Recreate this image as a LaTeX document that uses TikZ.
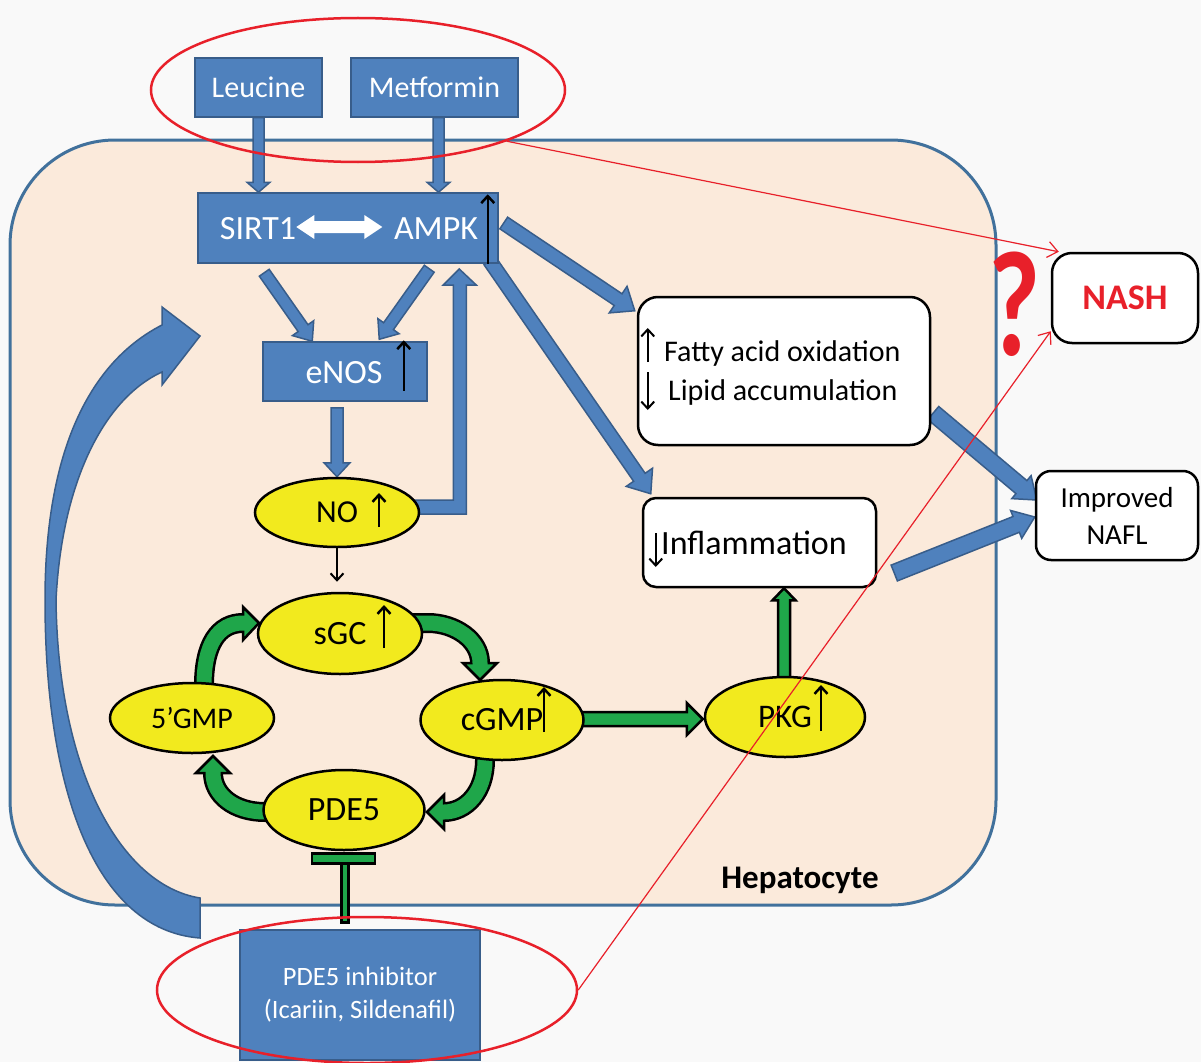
\documentclass[tikz,border=0pt]{standalone}
\usepackage{fontspec}
\setmainfont{Carlito}
\usepackage{graphicx}
\usetikzlibrary{calc,arrows.meta,shapes.geometric}
\definecolor{bgc}{HTML}{F9F9F9}
\definecolor{peach}{HTML}{FBEADB}
\definecolor{hepb}{HTML}{41719C}
\definecolor{bfill}{HTML}{4F81BD}
\definecolor{bline}{HTML}{385D8A}
\definecolor{yel}{HTML}{F2EA1E}
\definecolor{grn}{HTML}{1FA64A}
\definecolor{rd}{HTML}{E8202A}
\pgfdeclarelayer{background}
\pgfdeclarelayer{arrows}
\pgfdeclarelayer{front}
\pgfsetlayers{background,arrows,main,front}
\tikzset{
 blockarrow/.style={fill=bfill, draw=bline, line width=1.5pt},
 greenarrow/.style={fill=grn, draw=black, line width=2.5pt},
 bluebox/.style={rectangle, fill=bfill, draw=bline, line width=1.5pt, text=white, inner sep=0pt},
 yell/.style={ellipse, fill=yel, draw=black, line width=2.5pt, inner sep=0pt},
 whitebox/.style={rectangle, rounded corners=18pt, fill=white, draw=black, line width=2.5pt, inner sep=0pt},
 txtarrow/.style={line width=2.5pt, -{Straight Barb[length=7pt,width=13pt]}},
 redarrow/.style={draw=rd, line width=1.2pt, -{Straight Barb[length=10pt,width=16pt]}},
 redring/.style={ellipse, draw=rd, line width=2.5pt, inner sep=0pt},
 gshaftk/.style={line width=20pt, draw=black},
 gshaftg/.style={line width=15pt, draw=grn},
}
% block arrow: [style]{from}{to}{half shaft}{half head}{head length}
\newcommand\blk[6][]{%
  \coordinate (bkA) at (#2);
  \coordinate (bkB) at (#3);
  \coordinate (bkH) at ($(bkB)!#6!(bkA)$);
  \filldraw[blockarrow,#1] ($(bkA)!#4!90:(bkB)$) -- ($(bkH)!#4!90:(bkB)$) -- ($(bkH)!#5!90:(bkB)$) -- (bkB) -- ($(bkH)!#5!-90:(bkB)$) -- ($(bkH)!#4!-90:(bkB)$) -- ($(bkA)!#4!-90:(bkB)$) -- cycle;}
\begin{document}
\begin{tikzpicture}[x=1pt,y=-1pt]
\useasboundingbox (0,0) rectangle (1201,1062);
\begin{pgfonlayer}{background}
\fill[bgc] (0,0) rectangle (1201,1062);
\filldraw[fill=peach, draw=hepb, line width=3pt, rounded corners=105pt] (10,140) rectangle (996,905);
\end{pgfonlayer}

% nodes
\node[bluebox, minimum width=127pt, minimum height=59pt, font=\fontsize{30}{36}\selectfont] (leu) at (258.5,87.5) {Leucine};
\node[bluebox, minimum width=167pt, minimum height=59pt, font=\fontsize{30}{36}\selectfont] (met) at (434.5,87.5) {Metformin};
\node[bluebox, minimum width=300pt, minimum height=70pt] (sirt) at (348,228) {};
\node[text=white, font=\fontsize{34}{40}\selectfont] (sirtt) at (258,229) {SIRT1};
\node[text=white, font=\fontsize{34}{40}\selectfont] (ampkt) at (436,229) {AMPK};
\node[bluebox, minimum width=164pt, minimum height=59pt] (enos) at (345,371.5) {};
\node[text=white, font=\fontsize{34}{40}\selectfont] (enost) at (344,373) {eNOS};
\node[yell, minimum width=164pt, minimum height=69pt, font=\fontsize{32}{38}\selectfont] (no) at (337,512.5) {NO};
\node[yell, minimum width=164pt, minimum height=81pt, font=\fontsize{34}{40}\selectfont] (sgc) at (340,633.5) {sGC};
\node[yell, minimum width=164pt, minimum height=70pt, font=\fontsize{30}{36}\selectfont] (gmp) at (192,718) {5’GMP};
\node[yell, minimum width=163pt, minimum height=80pt, font=\fontsize{34}{40}\selectfont] (cgmp) at (502,720) {cGMP};
\node[yell, minimum width=161pt, minimum height=80pt, font=\fontsize{34}{40}\selectfont] (pde) at (344,810) {PDE5};
\node[yell, minimum width=160pt, minimum height=80pt, font=\fontsize{33}{40}\selectfont] (pkg) at (785,717) {PKG};
\node[whitebox, rounded corners=20pt, minimum width=292pt, minimum height=148pt] (fat) at (784,371) {};
\node[anchor=west, font=\fontsize{30}{36}\selectfont, inner sep=0pt] (fatt) at (664,353) {Fatty acid oxidation};
\node[anchor=west, font=\fontsize{30}{36}\selectfont, inner sep=0pt] (lipt) at (668,392) {Lipid accumulation};
\node[whitebox, rounded corners=13pt, minimum width=233pt, minimum height=89pt] (inf) at (759.5,542.5) {};
\node[anchor=west, font=\fontsize{34}{40}\selectfont, inner sep=0pt] (inft) at (661,543) {Inflammation};
\node[whitebox, rounded corners=20pt, minimum width=146pt, minimum height=90pt, text=rd, font=\fontsize{36}{42}\selectfont\bfseries] (nash) at (1125,298) {NASH};
\node[whitebox, rounded corners=15pt, minimum width=162pt, minimum height=89pt, align=center, font=\fontsize{29}{37}\selectfont] (naf) at (1117,515.5) {Improved\\NAFL};
\node[bluebox, minimum width=240pt, minimum height=130pt, align=center, font=\fontsize{26.5}{33}\selectfont] (pdei) at (360,995) {PDE5 inhibitor\\(Icariin, Sildenafil)};
\node[font=\fontsize{33}{40}\selectfont\bfseries] (hep) at (800,880) {Hepatocyte};
\node[text=rd, inner sep=0pt] (qm) at (1015,304) {\scalebox{0.75}[1]{\fontsize{150}{150}\selectfont\bfseries ?}};

% arrows under nodes
\begin{pgfonlayer}{arrows}
\blk{leu.south}{leu.south |- sirt.north}{5.5pt}{11.5pt}{10pt}
\blk{$(met.south)+(4,0)$}{$(met.south |- sirt.north)+(4,0)$}{5.5pt}{11.5pt}{10pt}
\blk{$(sirt.south west)+(67,9)$}{$(enos.north west)+(50,0)$}{6pt}{13pt}{16pt}
\blk{$(sirt.south west)+(232,5)$}{$(enos.north west)+(117,-2)$}{6pt}{13pt}{16pt}
\blk{$(enos.south)+(-8,6)$}{no.north}{6pt}{13pt}{14pt}
\filldraw[blockarrow] ($(no.east)+(-6,-12.5)$) -- ++(39,0) -- ++(0,-215) -- ++(-10,0) -- ++(16,-16) -- ++(17,16) -- ++(-10,0) -- ++(0,229) -- ++(-52,0) -- cycle;
\blk{$(sirt.east)+(5,-5)$}{$(fat.north west)+(-2,15)$}{7pt}{16pt}{20pt}
\blk{$(sirt.south east)+(-9,-3)$}{$(inf.north west)+(9,-3)$}{7pt}{16pt}{20pt}
\blk{$(fat.east)+(2,42)$}{$(naf.west)+(2,-15.5)$}{8.5pt}{15pt}{20pt}
\blk{$(inf.east)+(17,30.5)$}{$(naf.west)+(0,1.5)$}{8.5pt}{15pt}{20pt}
% big curved arrow
\filldraw[blockarrow] (200,938) .. controls (95,930) and (45,790) .. (45,600) .. controls (45,450) and (90,362) .. (162,325) -- (162,307) -- (200,336) -- (162,385) -- (162,372) .. controls (105,398) and (62,480) .. (56,600) .. controls (58,770) and (120,885) .. (200,898) -- cycle;
% green straight arrows
\blk[greenarrow]{$(cgmp.east)+(-5,-1)$}{$(cgmp.east -| pkg.west)+(-1,-1)$}{7pt}{16pt}{16pt}
\blk[greenarrow]{$(pkg.north)+(-1,5)$}{$(pkg.north |- inf.south)+(-1,0)$}{6pt}{11.5pt}{12pt}
% green curved arrows
\draw[gshaftk] (204,695) -- (204,685) .. controls (204,645) and (218,623) .. (243,623) -- (246,623);
\filldraw[greenarrow] (243,607) -- (259,623) -- (243,640) -- cycle;
\draw[gshaftg] (204,695) -- (204,685) .. controls (204,645) and (218,623) .. (243,623) -- (246,623);
\draw[gshaftk] (410,623) -- (428,623) .. controls (455,623) and (480,640) .. (480,663) -- (480,666);
\filldraw[greenarrow] (463,663) -- (480,680) -- (497,663) -- cycle;
\draw[gshaftg] (410,623) -- (428,623) .. controls (455,623) and (480,640) .. (480,663) -- (480,666);
\draw[gshaftk] (485,745) -- (485,760) .. controls (485,792) and (466,812) .. (444,812) -- (441,812);
\filldraw[greenarrow] (444,795) -- (427,812) -- (444,829) -- cycle;
\draw[gshaftg] (485,745) -- (485,760) .. controls (485,792) and (466,812) .. (444,812) -- (441,812);
\draw[gshaftk] (275,812) -- (265,812) .. controls (234,812) and (213,795) .. (213,773) -- (213,770);
\filldraw[greenarrow] (196,773) -- (213,756) -- (230,773) -- cycle;
\draw[gshaftg] (275,812) -- (265,812) .. controls (234,812) and (213,795) .. (213,773) -- (213,770);
\end{pgfonlayer}

% inhibition T
\filldraw[greenarrow] ($(pde.south)+(-2.5,8)$) rectangle ($(pde.south)+(4.5,71)$);
\filldraw[greenarrow] ($(pde.south)+(-32,2)$) rectangle ($(pde.south)+(31,12)$);

% white double arrow
\fill[white] ($(sirt.west)+(99,-1)$) -- ++(18,-12) -- ++(0,6) -- ++(50,0) -- ++(0,-6) -- ++(18,12) -- ++(-18,12) -- ++(0,-6) -- ++(-50,0) -- ++(0,6) -- cycle;

% small black arrows
\draw[txtarrow] ($(sirt.south east)+(-11,0)$) -- ($(sirt.north east)+(-11,2)$);
\draw[txtarrow] ($(enos.south east)+(-24,-11)$) -- ($(enos.north east)+(-24,-1)$);
\draw[txtarrow] ($(no.center)+(42,14.5)$) -- ($(no.center)+(42,-19.5)$);
\draw[txtarrow] ($(sgc.center)+(44,14.5)$) -- ($(sgc.center)+(44,-28.5)$);
\draw[txtarrow] ($(cgmp.center)+(42,12)$) -- ($(cgmp.center)+(42,-33)$);
\draw[txtarrow] ($(pkg.center)+(36,14)$) -- ($(pkg.center)+(36,-32)$);
\draw[txtarrow, line width=2pt] ($(fat.west)+(11,-9)$) -- ($(fat.west)+(11,-43)$);
\draw[txtarrow, line width=2pt] ($(fat.west)+(11,1)$) -- ($(fat.west)+(11,39)$);
\draw[txtarrow, line width=2pt] ($(inf.west)+(14,-9.5)$) -- ($(inf.west)+(14,24.5)$);
\draw[txtarrow, line width=2pt] (no.south) -- ($(no.south |- sgc.north)+(0,-10)$);

% red overlay
\begin{pgfonlayer}{front}
\node[redring, minimum width=414pt, minimum height=144pt] (ringtop) at (358,90) {};
\node[redring, minimum width=420pt, minimum height=146pt] (ringbot) at (367,990) {};
\draw[redarrow] (ringtop.-19) -- ($(nash.north west)+(8,0)$);
\draw[redarrow] (ringbot.east) -- ($(nash.south west)+(0,-13)$);
\end{pgfonlayer}
\end{tikzpicture}
\end{document}
